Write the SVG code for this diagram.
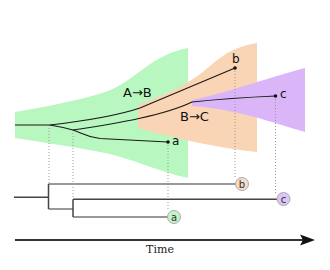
<svg xmlns="http://www.w3.org/2000/svg" width="330" height="270" viewBox="0 0 330 270">
<style>
.lbl{font-family:"DejaVu Sans",sans-serif;fill:#111}
.big{font-size:13px}
.sm{font-size:12px}
.cl{font-family:"DejaVu Sans",sans-serif;font-size:10px;fill:#333;text-anchor:middle}
.tl{fill:none;stroke:#1a1a1a;stroke-width:1.2}
.dot{fill:#111}
.dash{fill:none;stroke:#999;stroke-width:1;stroke-dasharray:1,2}
.dk{fill:none;stroke:#444;stroke-width:1.5}
.gr{fill:none;stroke:#999;stroke-width:2}
.circ{stroke:#aaa;stroke-width:1}
</style>
<g id="regions">
<path id="regionA" d="M15,112 C50,106 80,100 105,92 C135,82 150,55 188,48 L188,178 C160,172 130,158 105,153 C70,146 40,142 15,138 Z" fill="#b8f7bf"/>
<path id="regionB" d="M138,105 C165,95 190,84 210,66 C226,52 238,46 257,43 L257,152 C220,148 190,142 138,128 Z" fill="#f9d5b5"/>
<path id="regionC" d="M192,100 C230,92 260,80 305,68 L305,132 C270,122 240,110 192,106 Z" fill="#dab6f8"/>
</g>
<g id="region-labels">
<text class="lbl big" x="123" y="97">A→B</text>
<text class="lbl big" x="180" y="121">B→C</text>
</g>
<g id="connectors">
<path class="dash" d="M49,125 V184 M73,130 V199 M168,142 V211 M235,68 V179 M275.5,96 V195"/>
<path class="tl" d="M15,125 H50"/>
<path class="tl" d="M50,125 Q110,118 140,108 L235,68"/>
<path class="tl" d="M50,125 Q62,127 73,130"/>
<path class="tl" d="M73,130 C120,123 165,115 192,102 Q230,98 275.5,96"/>
<path class="tl" d="M73,130 C82,133 86,137 100,138.5 L168,142"/>
<path class="gr" d="M48.5,184 H236 M48.5,209 H73 M73,217 H168"/>
<path class="dk" d="M14,197.3 H48.5 M48.5,184 V209 M73,199.3 V217 M73,199.3 H277"/>
<path d="M15,240 H303" stroke="#333" stroke-width="2" fill="none"/>
<path d="M315,240 L300,234.5 L303,240 L300,245.5 Z" fill="#111"/>
</g>
<g id="tip-a">
<circle class="dot" cx="168" cy="142" r="1.8"/>
<text class="lbl sm" x="172" y="145">a</text>
</g>
<g id="tip-b">
<circle class="dot" cx="235" cy="68" r="1.8"/>
<text class="lbl sm" x="232" y="63">b</text>
</g>
<g id="tip-c">
<circle class="dot" cx="275.5" cy="96" r="1.8"/>
<text class="lbl sm" x="280" y="98">c</text>
</g>
<g id="node-a">
<circle class="circ" cx="174" cy="217" r="6.5" fill="#c4f3c9"/>
<text class="cl" x="174" y="220.5">a</text>
</g>
<g id="node-b">
<circle class="circ" cx="242" cy="184" r="6.5" fill="#f6dcc6"/>
<text class="cl" x="242" y="187.5">b</text>
</g>
<g id="node-c">
<circle class="circ" cx="283.5" cy="199" r="6.5" fill="#dcc5f7"/>
<text class="cl" x="283.5" y="202.5">c</text>
</g>
<text id="axis-label" x="160" y="253" font-family="DejaVu Serif, serif" font-size="11" fill="#222" text-anchor="middle">Time</text>
</svg>
